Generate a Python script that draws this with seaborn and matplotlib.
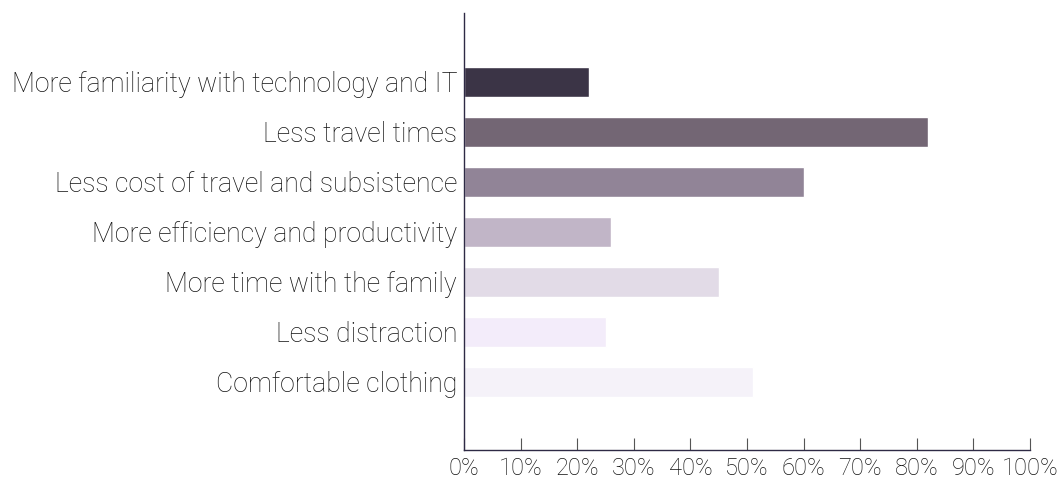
import matplotlib
matplotlib.use("Agg")
import matplotlib.pyplot as plt
import seaborn as sns
import pandas as pd
from matplotlib.ticker import PercentFormatter

categories = [
    "More familiarity with technology and IT",
    "Less travel times",
    "Less cost of travel and subsistence",
    "More efficiency and productivity",
    "More time with the family",
    "Less distraction",
    "Comfortable clothing",
]
values = [22, 82, 60, 26, 45, 25, 51]
colors = ["#3b3446", "#736674", "#918497", "#c1b5c7", "#e2dbe7", "#f3ecfa", "#f5f2f9"]
xticks = [0, 10, 20, 30, 40, 50, 60, 70, 80, 90, 100]

sns.set_theme(style="white")
plt.rcParams["font.family"] = ["Roboto", "DejaVu Sans"]
plt.rcParams["font.weight"] = "light"

df = pd.DataFrame({"category": categories, "value": values})

fig = plt.figure(figsize=(10.63, 4.79), dpi=100)
ax = fig.add_axes([464 / 1063, 1 - 450 / 479, (1030 - 464) / 1063, (450 - 13) / 479])
sns.barplot(data=df, x="value", y="category", hue="category", palette=colors,
            order=categories, hue_order=categories, width=0.6, orient="h",
            legend=False, ax=ax, saturation=1)

ax.set_xlim(0, 100)
ax.set_ylim(7.36, -1.38)
ax.set_xticks(xticks)
ax.xaxis.set_major_formatter(PercentFormatter(decimals=0))
ax.set_xlabel("")
ax.set_ylabel("")
for s in ["top", "right"]:
    ax.spines[s].set_visible(False)
for s in ["left", "bottom"]:
    ax.spines[s].set_color("#2e2a45")
    ax.spines[s].set_linewidth(1.0)
ax.tick_params(axis="x", direction="in", length=9, width=0.8, color="#555555",
               labelsize=17, labelcolor="#111111", pad=5, bottom=True)
ax.tick_params(axis="y", length=0, labelsize=19.2, labelcolor="#111111", pad=5)
for lab in ax.get_xticklabels() + ax.get_yticklabels():
    lab.set_fontweight("light")

fig.savefig("out.png", dpi=100)
